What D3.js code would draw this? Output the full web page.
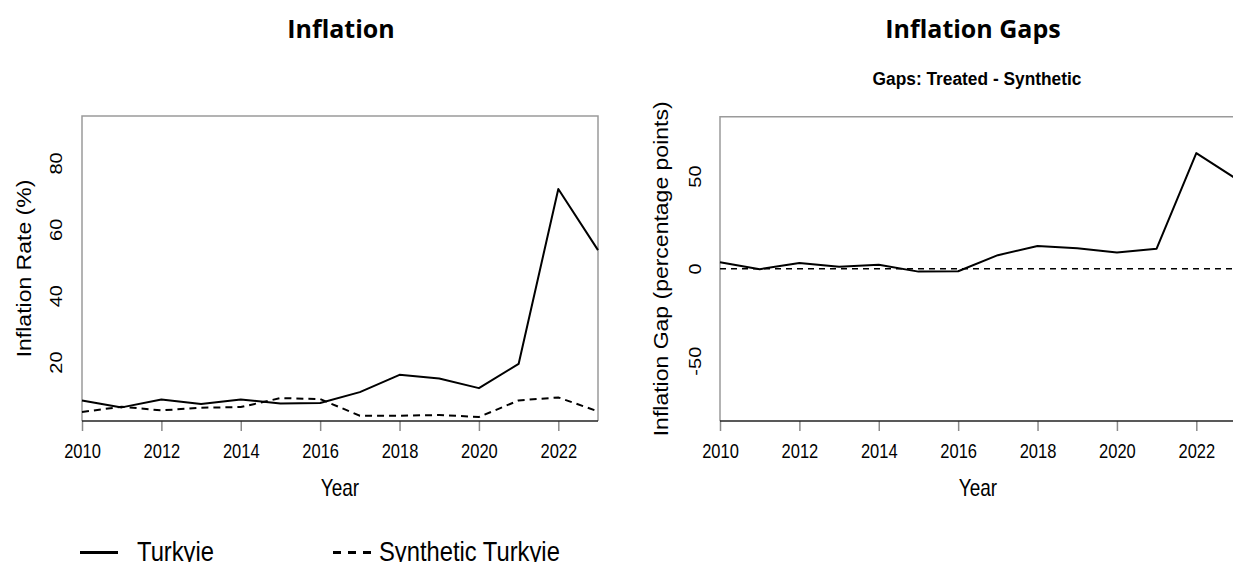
<!DOCTYPE html>
<html>
<head>
<meta charset="utf-8">
<script src="https://cdn.jsdelivr.net/npm/d3@7"></script>
<style>
  html, body { margin: 0; padding: 0; background: #fff; overflow: hidden; }
  svg { display: block; }
</style>
</head>
<body>
<svg id="chart" width="1233" height="562"></svg>
<script>
// Annual inflation, Turkey vs. its synthetic control
const years = [2010, 2011, 2012, 2013, 2014, 2015, 2016, 2017, 2018, 2019, 2020, 2021, 2022, 2023];
const turkyie = [8.6, 6.5, 8.9, 7.5, 8.9, 7.7, 7.8, 11.1, 16.3, 15.2, 12.3, 19.6, 72.3, 53.9];
const syntheticTurkyie = [5.1, 6.7, 5.6, 6.4, 6.6, 9.3, 9.0, 4.0, 4.0, 4.2, 3.6, 8.6, 9.5, 5.3];
// Treated minus synthetic, in percentage points
const inflationGap = [3.6, -0.2, 3.2, 1.1, 2.2, -1.5, -1.3, 7.4, 12.4, 11.1, 8.9, 10.9, 62.7, 48.8];

const yearTicks = [2010, 2012, 2014, 2016, 2018, 2020, 2022];
const rateTicks = [20, 40, 60, 80];
const gapTicks = [-50, 0, 50];
const legendLabels = ["Turkyie", "Synthetic Turkyie"];

const svg = d3.select("#chart");
const SX = 0.825;               // horizontal squeeze of the lettering
const SANS = "'Liberation Sans', Arial, sans-serif";
const FRAME = "#9a9a9a";

// text helper: anchored at (x,y), optional rotation, squeezed horizontally
function label(parent, str, x, y, o = {}) {
  const t = parent.append("text")
    .attr("transform", `translate(${x},${y}) scale(${o.sx ?? SX},1)` + (o.rot ? ` rotate(${o.rot})` : ""))
    .attr("text-anchor", o.anchor || "middle")
    .attr("font-family", o.family || SANS)
    .attr("font-size", o.size || 20)
    .attr("font-weight", o.weight || "normal")
    .attr("fill", "#000")
    .text(str);
  return t;
}

function panel(cfg) {
  const g = svg.append("g");
  const x = d3.scaleLinear().domain([2010, 2023]).range([cfg.left, cfg.right]);
  const y = d3.scaleLinear().domain(cfg.yDomain).range([cfg.bottom, cfg.top]);

  // frame: grey top / left / right, dark bottom axis
  g.append("path")
    .attr("d", `M${cfg.left},${cfg.bottom}V${cfg.top}H${cfg.right}V${cfg.bottom}`)
    .attr("fill", "none").attr("stroke", FRAME).attr("stroke-width", 1.5);

  // x axis
  const ax = g.append("g")
    .attr("transform", `translate(0,${cfg.bottom})`)
    .call(d3.axisBottom(x).tickValues(yearTicks).tickSize(10).tickFormat(d3.format("d")));
  ax.select(".domain").remove();
  ax.selectAll(".tick line").attr("stroke", "#8a8a8a").attr("stroke-width", 1.5);
  ax.selectAll(".tick text")
    .attr("y", 37.5).attr("dy", null)
    .attr("transform", `scale(${SX},1)`)
    .attr("font-family", SANS).attr("font-size", 20).attr("fill", "#000");
  g.append("line")
    .attr("x1", cfg.left).attr("x2", cfg.right)
    .attr("y1", cfg.bottom).attr("y2", cfg.bottom)
    .attr("stroke", "#222").attr("stroke-width", 1.5);

  // y tick labels, drawn parallel to the axis
  g.selectAll(".ylab").data(cfg.yTicks).join("text")
    .attr("class", "ylab")
    .attr("transform", d => `translate(${cfg.yLabelX},${y(d)}) scale(${SX},1) rotate(-90)`)
    .attr("text-anchor", "middle")
    .attr("font-family", SANS).attr("font-size", 20)
    .text(d => d);

  label(g, "Year", (cfg.left + cfg.right) / 2, 496, { size: 23 });
  label(g, cfg.yTitle, cfg.yTitleX, (cfg.top + cfg.bottom) / 2, { size: 23, rot: -90, sx: 0.9 });

  return { g, x, y };
}

// ---- left panel: inflation levels ----
const L = panel({
  left: 82, right: 598, top: 116, bottom: 421,
  yDomain: [2.4, 94.3], yTicks: rateTicks,
  yLabelX: 62, yTitleX: 31, yTitle: "Inflation Rate (%)"
});
const lineL = d3.line().x((d, i) => L.x(years[i])).y(d => L.y(d));
L.g.append("path").datum(syntheticTurkyie)
  .attr("d", lineL).attr("fill", "none").attr("stroke", "#000")
  .attr("stroke-width", 2).attr("stroke-dasharray", "7,5");
L.g.append("path").datum(turkyie)
  .attr("d", lineL).attr("fill", "none").attr("stroke", "#000")
  .attr("stroke-width", 2).attr("stroke-linejoin", "round");

label(svg, "Inflation", 341, 37.5, { size: 25, weight: 700, sx: 1, family: "'Open Sans', sans-serif" });

// ---- right panel: gaps ----
const R = panel({
  left: 720, right: 1236, top: 116.7, bottom: 421,
  yDomain: [-82.4, 82.4], yTicks: gapTicks,
  yLabelX: 701, yTitleX: 668, yTitle: "Inflation Gap (percentage points)"
});
R.g.append("line")
  .attr("x1", R.x(2010)).attr("x2", R.x(2023))
  .attr("y1", R.y(0)).attr("y2", R.y(0))
  .attr("stroke", "#000").attr("stroke-width", 1.5).attr("stroke-dasharray", "6,5");
const lineR = d3.line().x((d, i) => R.x(years[i])).y(d => R.y(d));
R.g.append("path").datum(inflationGap)
  .attr("d", lineR).attr("fill", "none").attr("stroke", "#000")
  .attr("stroke-width", 2).attr("stroke-linejoin", "round");

label(svg, "Inflation Gaps", 973, 37.5, { size: 25, weight: 700, sx: 1, family: "'Open Sans', sans-serif" });
label(svg, "Gaps: Treated - Synthetic", 977, 84.5, { size: 19, weight: 700, sx: 0.912 });

// ---- legend ----
const lg = svg.append("g");
lg.append("line").attr("x1", 80).attr("x2", 118).attr("y1", 552.5).attr("y2", 552.5)
  .attr("stroke", "#000").attr("stroke-width", 3);
label(lg, legendLabels[0], 137, 561, { size: 27, anchor: "start", sx: 0.88 });
lg.append("line").attr("x1", 333).attr("x2", 371).attr("y1", 552.5).attr("y2", 552.5)
  .attr("stroke", "#000").attr("stroke-width", 3).attr("stroke-dasharray", "8,7");
label(lg, legendLabels[1], 379, 561, { size: 27, anchor: "start", sx: 0.88 });
</script>
</body>
</html>
